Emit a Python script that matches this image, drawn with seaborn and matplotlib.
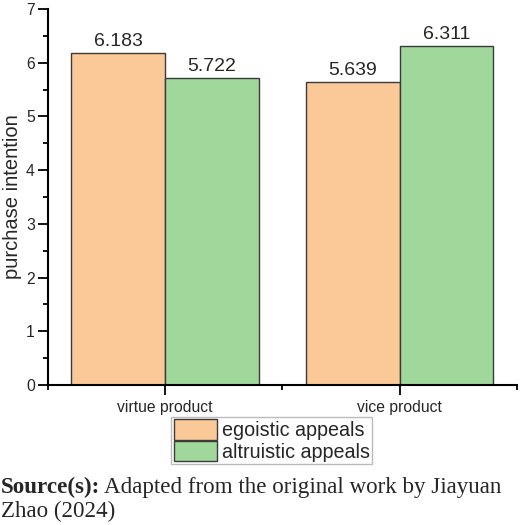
import matplotlib
matplotlib.use("Agg")
import matplotlib.pyplot as plt
import seaborn as sns
import pandas as pd
from matplotlib.ticker import MultipleLocator
from matplotlib.patches import Patch

categories = ["virtue product", "vice product"]
appeals = ["egoistic appeals", "altruistic appeals"]
egoistic = [6.183, 5.639]
altruistic = [5.722, 6.311]
colors = ["#FBC998", "#A0D89C"]

df = pd.DataFrame({
    "product": categories * 2,
    "appeal": [appeals[0]] * 2 + [appeals[1]] * 2,
    "value": egoistic + altruistic,
})

sns.set_style("ticks")
plt.rcParams['font.family'] = ['Liberation Sans', 'DejaVu Sans']

fig = plt.figure(figsize=(5.2, 5.25), dpi=100)
ax = fig.add_axes([0.0923, 0.2667, 0.9017, 0.7163])
sns.barplot(data=df, x="product", y="value", hue="appeal", order=categories,
            hue_order=appeals, palette=colors, edgecolor="#3a3a3a", linewidth=1.0,
            width=0.8, saturation=1, ax=ax, legend=False)

for cont in ax.containers:
    ax.bar_label(cont, fmt="%.3f", fontsize=14, padding=2)

ax.set_xlim(-0.5, 1.5)
ax.set_ylim(0, 7)
ax.yaxis.set_major_locator(MultipleLocator(1))
ax.yaxis.set_minor_locator(MultipleLocator(0.5))
ax.xaxis.set_minor_locator(MultipleLocator(0.5))
ax.tick_params(axis="both", which="major", direction="out", length=7, width=1.3,
               labelsize=11.3, color="black", pad=2.5)
ax.tick_params(axis="both", which="minor", direction="out", length=3.5, width=1.3, color="black")
ax.tick_params(axis="x", labelsize=11.3, pad=4)
ax.set_xlabel("")
ax.set_ylabel("purchase intention", fontsize=14.5, labelpad=3)
for s in ["top", "right"]:
    ax.spines[s].set_visible(False)
for s in ["left", "bottom"]:
    ax.spines[s].set_linewidth(1.5)
    ax.spines[s].set_color("black")

handles = [Patch(facecolor=c, edgecolor="#3a3a3a", linewidth=1.0) for c in colors]
leg = fig.legend(handles, appeals, loc="upper center", bbox_to_anchor=(0.523, 1 - 417 / 525),
                 fontsize=14.2, frameon=True, fancybox=False, handlelength=2.2,
                 handleheight=1.2, labelspacing=0.05, handletextpad=0.25,
                 borderpad=0.12, borderaxespad=0)
leg.get_frame().set_edgecolor("#aaaaaa")
leg.get_frame().set_linewidth(1.0)

serif = ["Liberation Serif", "DejaVu Serif"]
t1 = fig.text(0.002, 1 - 493 / 525, "Source(s):", fontsize=16.6, fontweight="bold",
              family=serif, va="baseline")
fig.canvas.draw()
bb = t1.get_window_extent(renderer=fig.canvas.get_renderer())
fig.text(bb.x1 / fig.bbox.width + 0.008, 1 - 493 / 525,
         "Adapted from the original work by Jiayuan",
         fontsize=16.6, family=serif, va="baseline")
fig.text(0.002, 1 - 517 / 525, "Zhao (2024)", fontsize=16.6,
         family=serif, va="baseline")

fig.savefig("out.png", dpi=100)
